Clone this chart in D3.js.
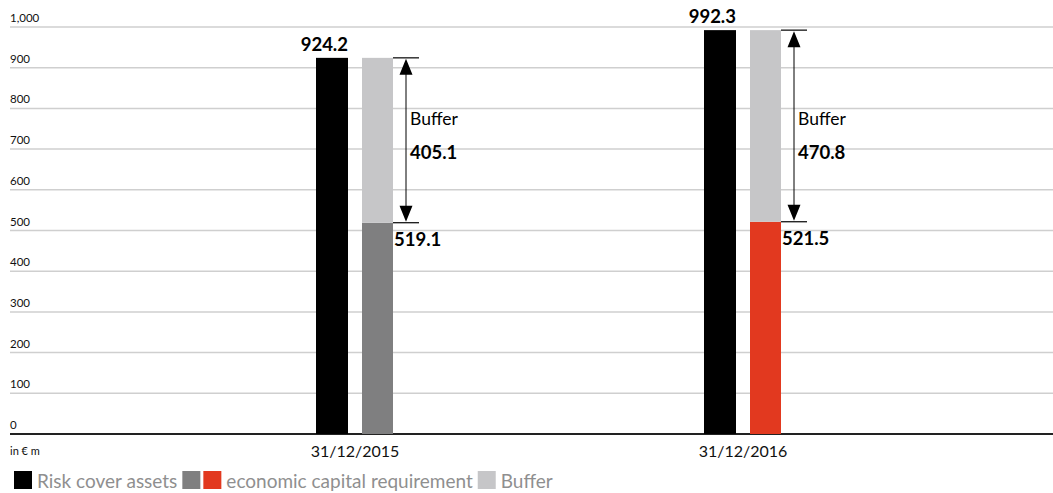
<!DOCTYPE html>
<html>
<head>
<meta charset="utf-8">
<script src="https://cdn.jsdelivr.net/npm/d3@7"></script>
<style>
  body { margin: 0; background: #fff; }
  svg { display: block; font-family: Lato, "Open Sans", sans-serif; }
</style>
</head>
<body>
<svg width="1053" height="493"></svg>
<script>
const categories = ["31/12/2015", "31/12/2016"];
const riskCover = [924.2, 992.3];
const capitalReq = [519.1, 521.5];
const buffer = [405.1, 470.8];
const capitalColors = ["#7f7f80", "#e2391f"];
const yTicks = [0, 100, 200, 300, 400, 500, 600, 700, 800, 900, 1000];

const svg = d3.select("svg");
const fmt = d3.format(",");

const y = d3.scaleLinear().domain([0, 1000]).range([434, 27]);
const x = d3.scalePoint().domain(categories).range([355, 743]);
const barW = 32, gap = 14;

// gridlines + tick labels
svg.selectAll(".grid")
  .data(yTicks.slice(1))
  .enter().append("line")
  .attr("x1", 10).attr("x2", 1053)
  .attr("y1", d => y(d)).attr("y2", d => y(d))
  .attr("stroke", "#cfcfcf").attr("stroke-width", 1.5);

svg.selectAll(".tick")
  .data(yTicks)
  .enter().append("text")
  .attr("x", 10).attr("y", d => y(d) - 5)
  .attr("font-size", 11.5).attr("fill", "#111")
  .text(d => fmt(d));

svg.append("line")
  .attr("x1", 10).attr("x2", 1053)
  .attr("y1", y(0)).attr("y2", y(0))
  .attr("stroke", "#222").attr("stroke-width", 2);

const data = categories.map((c, i) => ({
  c, risk: riskCover[i], cap: capitalReq[i], buf: buffer[i], color: capitalColors[i]
}));

const g = svg.selectAll(".grp")
  .data(data)
  .enter().append("g");

// risk cover assets bar
g.append("rect")
  .attr("x", d => x(d.c) - gap / 2 - barW)
  .attr("width", barW)
  .attr("y", d => y(d.risk))
  .attr("height", d => y(0) - y(d.risk))
  .attr("fill", "#000");

g.append("text")
  .attr("x", d => x(d.c) - gap / 2)
  .attr("y", d => y(d.risk) - 7)
  .attr("text-anchor", "end")
  .attr("font-size", 18.5).attr("font-weight", "bold")
  .text(d => d.risk.toFixed(1));

// capital requirement
g.append("rect")
  .attr("x", d => x(d.c) + gap / 2)
  .attr("width", barW - 1)
  .attr("y", d => y(d.cap))
  .attr("height", d => y(0) - y(d.cap))
  .attr("fill", d => d.color);

// buffer stacked on top
g.append("rect")
  .attr("x", d => x(d.c) + gap / 2)
  .attr("width", barW - 1)
  .attr("y", d => y(d.cap + d.buf))
  .attr("height", d => y(d.cap) - y(d.cap + d.buf))
  .attr("fill", "#c6c6c8");

g.append("text")
  .attr("x", d => x(d.c) + gap / 2 + barW)
  .attr("y", d => y(d.cap) + 23)
  .attr("font-size", 18.5).attr("font-weight", "bold")
  .text(d => d.cap.toFixed(1));

// buffer dimension arrow
const ax = d => x(d.c) + gap / 2 + barW + 12;
g.append("line")
  .attr("x1", d => x(d.c) + gap / 2 + barW - 1).attr("x2", d => ax(d) + 13)
  .attr("y1", d => y(d.cap + d.buf)).attr("y2", d => y(d.cap + d.buf))
  .attr("stroke", "#000").attr("stroke-width", 1.2);
g.append("line")
  .attr("x1", d => x(d.c) + gap / 2 + barW - 1).attr("x2", d => ax(d) + 13)
  .attr("y1", d => y(d.cap)).attr("y2", d => y(d.cap))
  .attr("stroke", "#000").attr("stroke-width", 1.2);
g.append("line")
  .attr("x1", ax).attr("x2", ax)
  .attr("y1", d => y(d.cap + d.buf) + 10).attr("y2", d => y(d.cap) - 10)
  .attr("stroke", "#000").attr("stroke-width", 1);
g.append("path")
  .attr("d", d => {
    const t = y(d.cap + d.buf) + 1, b = y(d.cap) - 1, cx = ax(d);
    return `M${cx},${t}L${cx - 6.5},${t + 16}L${cx + 6.5},${t + 16}Z` +
      `M${cx},${b}L${cx - 6.5},${b - 16}L${cx + 6.5},${b - 16}Z`;
  })
  .attr("fill", "#000");

g.append("text")
  .attr("x", d => ax(d) + 4)
  .attr("y", y(760))
  .attr("font-size", 17.5)
  .text("Buffer");
g.append("text")
  .attr("x", d => ax(d) + 4)
  .attr("y", y(676))
  .attr("font-size", 18.5).attr("font-weight", "bold")
  .text(d => d.buf.toFixed(1));

// category labels
svg.selectAll(".cat")
  .data(categories)
  .enter().append("text")
  .attr("x", d => x(d)).attr("y", 457)
  .attr("text-anchor", "middle")
  .attr("font-size", 16).attr("fill", "#111")
  .text(d => d);

svg.append("text")
  .attr("x", 10).attr("y", 455)
  .attr("font-size", 11).attr("fill", "#111")
  .text("in € m");

// legend
const legend = [
  { sw: ["#000"], label: "Risk cover assets" },
  { sw: capitalColors, label: "economic capital requirement" },
  { sw: ["#c6c6c8"], label: "Buffer" }
];
let lx = 14;
legend.forEach(l => {
  l.sw.forEach(c => {
    svg.append("rect").attr("x", lx).attr("y", 471).attr("width", 18).attr("height", 18).attr("fill", c);
    lx += 21;
  });
  const t = svg.append("text")
    .attr("x", lx + 2).attr("y", 488)
    .attr("font-size", 19).attr("fill", "#8f8f8f")
    .text(l.label);
  lx += 2 + t.node().getComputedTextLength() + 5;
});
</script>
</body>
</html>
